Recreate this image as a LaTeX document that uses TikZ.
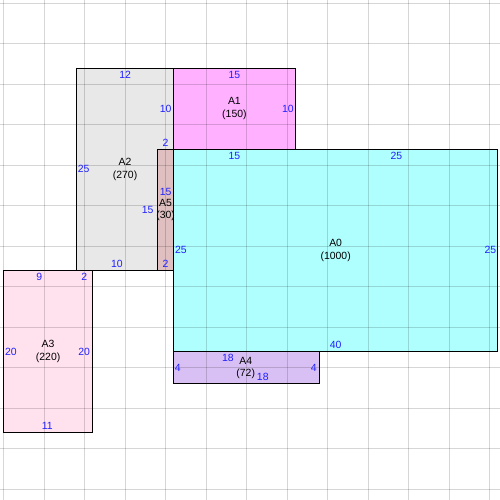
\documentclass[tikz,border=0pt]{standalone}
\usepackage{fontspec}
\setmainfont{Liberation Sans}
\definecolor{cA0}{HTML}{B0FFFF}
\definecolor{cA1}{HTML}{FFB0FF}
\definecolor{cA2}{HTML}{E8E8E8}
\definecolor{cA3}{HTML}{FFE2EE}
\definecolor{cA4}{HTML}{D8C0F4}
\definecolor{cA5}{HTML}{DFBFBF}
\definecolor{lbl}{HTML}{2020FF}
\tikzset{
  areabox/.style={draw=black,line width=1.1pt},
  gridline/.style={draw=black,draw opacity=0.16,line width=0.9pt},
  edgelbl/.style={text=lbl,font=\fontsize{11}{13}\selectfont,inner sep=0pt},
  arealbl/.style={text=black,font=\fontsize{11}{13}\selectfont,align=center,inner sep=0pt}
}
\begin{document}
\begin{tikzpicture}[x=0.3cm,y=-0.3cm]
\useasboundingbox (-21.44,-18.4) rectangle (40.28,43.33);
\fill[white] (-21.44,-18.4) rectangle (40.28,43.33);
% fills
\fill[cA2] (-12,-10) -- (0,-10) -- (0,0) -- (-2,0) -- (-2,15) -- (-12,15) -- cycle;
\fill[cA1] (0,-10) rectangle (15,0);
\fill[cA5] (-2,0) rectangle (0,15);
\fill[cA0] (0,0) rectangle (40,25);
\fill[cA4] (0,25) rectangle (18,29);
\fill[cA3] (-21,15) rectangle (-10,35);
% grid
\foreach \gx in {-21,-16,...,39} \draw[gridline] (\gx,-18.4) -- (\gx,43.33);
\foreach \gy in {-18,-13,...,42} \draw[gridline] (-21.44,\gy) -- (40.28,\gy);
% borders
\draw[areabox] (-12,-10) -- (0,-10) -- (0,0) -- (-2,0) -- (-2,15) -- (-12,15) -- cycle;
\draw[areabox] (0,-10) rectangle (15,0);
\draw[areabox] (-2,0) rectangle (0,15);
\draw[areabox] (0,0) rectangle (40,25);
\draw[areabox] (0,25) rectangle (18,29);
\draw[areabox] (-21,15) rectangle (-10,35);
% names
\node[arealbl] (nA0) at (20,12.5) {A0\\(1000)};
\node[arealbl] (nA1) at (7.5,-5) {A1\\(150)};
\node[arealbl] (nA2) at (-6,2.5) {A2\\(270)};
\node[arealbl] (nA3) at (-15.5,25) {A3\\(220)};
\node[arealbl] (nA4) at (8.9,27) {A4\\(72)};
\node[arealbl] (nA5) at (-1,7.5) {A5\\(30)};
% edge labels
\node[edgelbl] (l1t) at (7.5,-9.2) {15};
\node[edgelbl] (l1r) at (14.1,-5) {10};
\node[edgelbl] (l2r) at (-1,-5) {10};
\node[edgelbl] (l2n) at (-1,-0.75) {2};
\node[edgelbl] (l2t) at (-6,-9.2) {12};
\node[edgelbl] (l2l) at (-11.1,2.4) {25};
\node[edgelbl] (l2b) at (-7,14.2) {10};
\node[edgelbl] (l2s) at (-3.2,7.5) {15};
\node[edgelbl] (l5r) at (-1,5.3) {15};
\node[edgelbl] (l5b) at (-1,14.2) {2};
\node[edgelbl] (l0t1) at (7.5,0.85) {15};
\node[edgelbl] (l0t2) at (27.5,0.85) {25};
\node[edgelbl] (l0l) at (0.9,12.5) {25};
\node[edgelbl] (l0r) at (39.1,12.4) {25};
\node[edgelbl] (l0b) at (20,24.2) {40};
\node[edgelbl] (l4t) at (6.7,25.8) {18};
\node[edgelbl] (l4b) at (11,28.1) {18};
\node[edgelbl] (l4l) at (0.5,27) {4};
\node[edgelbl] (l4r) at (17.3,27) {4};
\node[edgelbl] (l3t1) at (-16.6,15.8) {9};
\node[edgelbl] (l3t2) at (-11.05,15.8) {2};
\node[edgelbl] (l3l) at (-20.1,25) {20};
\node[edgelbl] (l3r) at (-11.05,25) {20};
\node[edgelbl] (l3b) at (-15.6,34.2) {11};
\end{tikzpicture}
\end{document}
